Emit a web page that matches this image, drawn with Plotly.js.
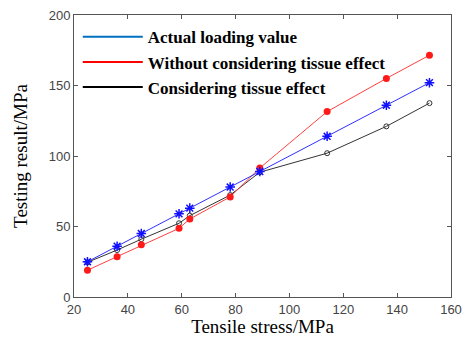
<!DOCTYPE html>
<html><head><meta charset="utf-8">
<script src="https://cdn.plot.ly/plotly-3.0.1.min.js"></script>
<style>html,body{margin:0;padding:0;background:#fff}#c{width:465px;height:337px}</style>
</head><body><div id="c"></div>
<script>
var stress = [25, 36, 45, 59, 63, 78, 89, 114, 136, 152];
var actualLoading = [25, 36, 45, 59, 63, 78, 89, 114, 136, 152];
var withoutTissue = [19, 28.6, 37, 48.7, 55.3, 71, 91.5, 131.5, 155, 171.5];
var withTissue = [24.6, 33.3, 41, 52.3, 57.7, 72.3, 88.5, 102, 121, 137.5];
var seriesNames = ['Actual loading value', 'Without considering tissue effect', 'Considering tissue effect'];
var xTicks = [20, 40, 60, 80, 100, 120, 140, 160];
var yTicks = [0, 50, 100, 150, 200];

var traces = [
  {x: stress, y: withTissue, mode: 'lines+markers', showlegend: false,
   line: {color: '#333333', width: 1}, marker: {symbol: 'circle-open', size: 5, color: '#333333', line: {width: 1}}},
  {x: stress, y: withoutTissue, mode: 'lines+markers', showlegend: false,
   line: {color: '#ff4040', width: 1}, marker: {symbol: 'circle', size: 7, color: '#ff1a1a'}},
  {x: stress, y: actualLoading, mode: 'lines+markers', showlegend: false,
   line: {color: '#3030ff', width: 1}, marker: {symbol: 'asterisk-open', size: 8, color: '#1010ff', line: {width: 1.5, color: '#1010ff'}}},
  {x: [null], y: [null], mode: 'lines', name: seriesNames[0], line: {color: '#0070c0', width: 2}},
  {x: [null], y: [null], mode: 'lines', name: seriesNames[1], line: {color: '#ff0000', width: 2}},
  {x: [null], y: [null], mode: 'lines', name: seriesNames[2], line: {color: '#000000', width: 2}}
];

var axisCommon = {
  showgrid: false, zeroline: false, showline: true, linecolor: '#555', linewidth: 1,
  mirror: 'ticks', ticks: 'inside', ticklen: 4, tickcolor: '#555',
  tickfont: {family: 'Liberation Sans, Arial, sans-serif', size: 13, color: '#444'}
};

var layout = {
  width: 465, height: 337,
  margin: {l: 74, r: 14, t: 15, b: 40},
  paper_bgcolor: '#fff', plot_bgcolor: '#fff',
  xaxis: Object.assign({}, axisCommon, {range: [20, 160], tickvals: xTicks, ticktext: xTicks.map(String),
    title: {text: 'Tensile stress/MPa', font: {family: 'Liberation Serif, Times New Roman, serif', size: 19, color: '#000'}, standoff: 1}}),
  yaxis: Object.assign({}, axisCommon, {range: [0, 200], tickvals: yTicks, ticktext: yTicks.map(String),
    title: {text: 'Testing result/MPa', font: {family: 'Liberation Serif, Times New Roman, serif', size: 19, color: '#000'}, standoff: 16}}),
  legend: {x: 0.01, y: 0.985, xanchor: 'left', yanchor: 'top', bgcolor: 'rgba(0,0,0,0)',
    font: {family: 'Liberation Serif, Times New Roman, serif', size: 17, color: '#000', weight: 'bold'},
    itemwidth: 60, tracegroupgap: 0},
  showlegend: true
};

Plotly.newPlot('c', traces, layout, {displayModeBar: false, staticPlot: true});
</script>
</body></html>
